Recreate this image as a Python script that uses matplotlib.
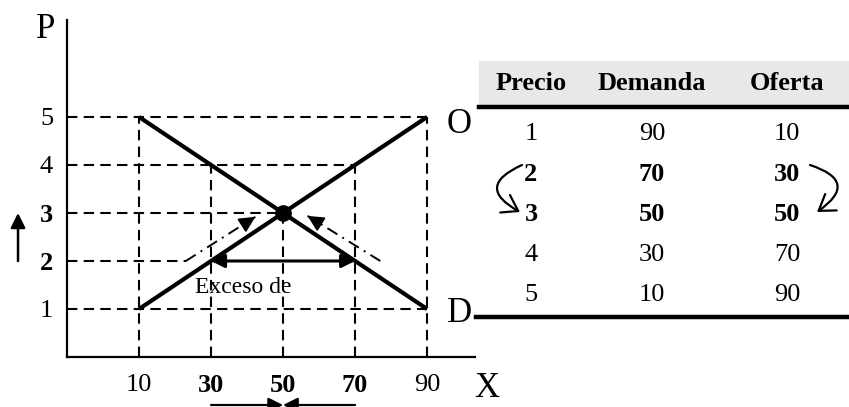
import matplotlib.pyplot as plt
from matplotlib.patches import FancyArrowPatch

plt.rcParams['font.family'] = ['Liberation Serif', 'DejaVu Serif']

# supply / demand schedule
precios = [1, 2, 3, 4, 5]
demanda = [90, 70, 50, 30, 10]
oferta = [10, 30, 50, 70, 90]
bold_rows = [2, 3]

x_ticks = [10, 30, 50, 70, 90]
y_ticks = [1, 2, 3, 4, 5]
p_eq, q_eq = 3, 50
p_low = 2

fig = plt.figure(figsize=(8.49, 4.07), dpi=100)
ax = fig.add_axes([67 / 849, 50 / 407, 408 / 849, 337 / 407])
ax.set_xlim(-10, 103.3)
ax.set_ylim(0, 7.02)
for s in ['top', 'right']:
    ax.spines[s].set_visible(False)
for s in ['left', 'bottom']:
    ax.spines[s].set_linewidth(1.6)

dash = dict(color='black', lw=1.5, linestyle=(0, (5, 3)), zorder=1)

# guide lines from the axes to each point of the schedule
for p, qd, qs in zip(precios, demanda, oferta):
    q_right = max(qd, qs)
    if p == p_eq:
        q_right = q_eq
    if p == p_low:
        ax.plot([-10, 23], [p, p], **dash)
        continue
    ax.plot([-10, q_right], [p, p], **dash)
for q, p in zip(oferta, precios):
    top = max(p, precios[demanda.index(q)])
    ax.plot([q, q], [0, top], **dash)

# curves
ax.plot(oferta, precios, color='black', lw=3, solid_capstyle='butt', zorder=3)
ax.plot(demanda, precios, color='black', lw=3, solid_capstyle='butt', zorder=3)
ax.plot([q_eq], [p_eq], 'o', color='black', ms=11, zorder=4)

# excess demand at price 2
qs2 = oferta[precios.index(p_low)]
qd2 = demanda[precios.index(p_low)]
ax.add_patch(FancyArrowPatch((qs2, p_low), (qd2, p_low), arrowstyle='<|-|>',
                             mutation_scale=20, lw=2.2, color='black',
                             shrinkA=0, shrinkB=0, zorder=5))
ax.text(25.6, 1.44, 'Exceso de', fontsize=17, va='center', ha='left', zorder=0)

# adjustment paths towards equilibrium: dash-dot shaft, solid head
for start, end in [((23, p_low), (42.3, 2.92)), ((77, p_low), (56.8, 2.94))]:
    ax.plot([start[0], end[0]], [start[1], end[1]], color='black', lw=1.4,
            linestyle=(0, (6, 3, 1, 3)), zorder=2)
    back = (end[0] - 0.15 * (end[0] - start[0]), end[1] - 0.15 * (end[1] - start[1]))
    ax.add_patch(FancyArrowPatch(back, end, arrowstyle='-|>', mutation_scale=24,
                                 lw=1.4, color='black', shrinkA=0, shrinkB=0, zorder=2))

# price rises, quantities converge
ax.add_patch(FancyArrowPatch((-23.6, p_low), (-23.6, p_eq), arrowstyle='-|>',
                             mutation_scale=22, lw=1.8, color='black',
                             shrinkA=0, shrinkB=0, clip_on=False))
for q in [qs2, qd2]:
    ax.add_patch(FancyArrowPatch((q, -1.0), (q_eq, -1.0), arrowstyle='-|>',
                                 mutation_scale=22, lw=1.6, color='black',
                                 shrinkA=0, shrinkB=0, clip_on=False))

ax.set_xticks(x_ticks)
ax.set_yticks(y_ticks)
ax.tick_params(length=0, labelsize=19)
ax.tick_params(axis='x', pad=12)
ax.tick_params(axis='y', pad=10)
for lab, q in zip(ax.get_xticklabels(), x_ticks):
    if q in [30, 50, 70]:
        lab.set_fontweight('bold')
for lab, p in zip(ax.get_yticklabels(), y_ticks):
    if p in bold_rows:
        lab.set_fontweight('bold')

ax.text(-15.8, 6.82, 'P', fontsize=25, ha='center', va='center', clip_on=False)
ax.text(106.7, -0.65, 'X', fontsize=25, ha='center', va='center', clip_on=False)
ax.text(95.5, 4.85, 'O', fontsize=25, ha='left', va='center', clip_on=False)
ax.text(95.5, 0.9, 'D', fontsize=25, ha='left', va='center', clip_on=False)

# schedule table, laid out in pixel units
tb = fig.add_axes([0, 0, 1, 1])
tb.set_xlim(0, 849)
tb.set_ylim(407, 0)
tb.axis('off')
tb.patch.set_alpha(0)
tb.fill_between([479, 849], 61, 107, color='#e8e8e8', lw=0)
tb.plot([479, 849], [107, 107], color='black', lw=3.2)
tb.plot([476, 849], [317, 317], color='black', lw=3.2)

col_x = [531, 652, 787]
headers = ['Precio', 'Demanda', 'Oferta']
for cx, h in zip(col_x, headers):
    tb.text(cx, 90, h, fontsize=19, fontweight='bold', ha='center', va='baseline')
row_y = [140, 181, 221, 261, 301]
for ry, p, qd, qs in zip(row_y, precios, demanda, oferta):
    w = 'bold' if p in bold_rows else 'normal'
    for cx, v in zip(col_x, [p, qd, qs]):
        tb.text(cx, ry, str(v), fontsize=19, fontweight=w, ha='center', va='baseline')

# curved arrows between the price rows 2 and 3
tb.add_patch(FancyArrowPatch((522, 165), (520, 212), connectionstyle='arc3,rad=1.0',
                             arrowstyle='->,head_length=0.6,head_width=0.4',
                             mutation_scale=18, lw=1.6, color='black',
                             shrinkA=0, shrinkB=0))
tb.add_patch(FancyArrowPatch((810, 165), (817, 212), connectionstyle='arc3,rad=-1.0',
                             arrowstyle='->,head_length=0.6,head_width=0.4',
                             mutation_scale=18, lw=1.6, color='black',
                             shrinkA=0, shrinkB=0))

fig.savefig('out.png', dpi=100)
